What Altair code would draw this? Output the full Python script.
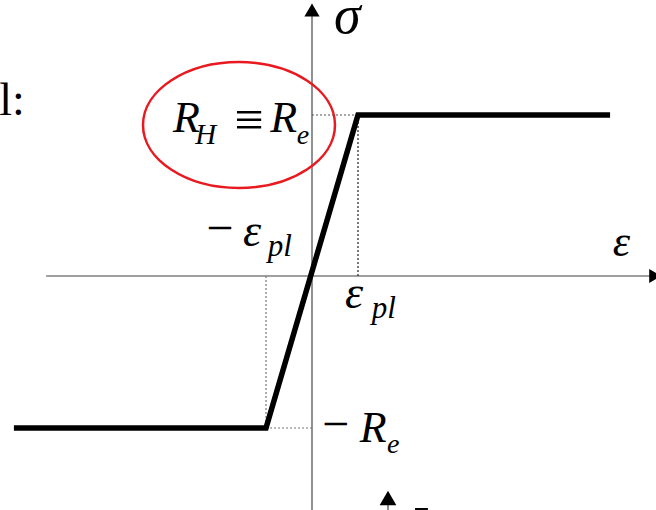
import altair as alt
import pandas as pd

# Elastic-perfectly-plastic law: strain in units of eps_pl, stress in units of R_e
curve_eps = [-6.48, -1.0, 1.0, 6.48]
curve_sig = [-0.944, -0.944, 1.0, 1.0]

# axis extents (same units)
x_axis_from, x_axis_to = -5.78, 7.39
y_axis_from, y_axis_to = 1.652, -1.453

# dotted construction lines: (x, y, x2, y2, colour)
guides = [
    (1.0, 0.0, 1.0, 1.0, "#222222"),
    (0.0, 1.0, 1.0, 1.0, "#555555"),
    (-1.0, 0.0, -1.0, -0.944, "#777777"),
    (-1.0, -0.944, 0.0, -0.944, "#777777"),
]

# labels: (x, baseline y, text, font size)
italic_labels = [
    (0.48, 1.509, "σ", 54),
    (6.54, 0.124, "ε", 44),
    (-1.50, 0.186, "ε", 46),
    (-0.96, 0.124, "pl", 31),
    (0.72, -0.199, "ε", 46),
    (1.30, -0.261, "pl", 31),
    (1.04, -1.031, "R", 44),
    (1.63, -1.099, "e", 28),
    (-3.02, 0.894, "R", 44),
    (-2.54, 0.820, "H", 29),
    (-0.91, 0.894, "R", 44),
    (-0.33, 0.820, "e", 28),
]
upright_labels = [
    (-2.30, 0.199, "−", 48),
    (0.22, -1.019, "−", 48),
    (-1.69, 0.862, "≡", 52),
    (-6.80, 1.0, "l:", 46),
]

xs = alt.Scale(domain=[-6.7826, 7.4783], nice=False, zero=False)
ys = alt.Scale(domain=[-1.4534, 1.7143], nice=False, zero=False)
FONT = "Liberation Serif"


def X(f="x"):
    return alt.X(f"{f}:Q", scale=xs, axis=None)


def Y(f="y"):
    return alt.Y(f"{f}:Q", scale=ys, axis=None)


solid_df = pd.DataFrame(
    {
        "x": [x_axis_from, 0.0, 1.652, 2.24],
        "y": [0.0, y_axis_from, -1.41, -1.447],
        "x2": [x_axis_to, 0.0, 1.652, 2.52],
        "y2": [0.0, y_axis_to, -1.453, -1.447],
        "c": ["#808080", "#555555", "#555555", "#000000"],
        "w": [1.3, 1.3, 1.3, 2.0],
    }
)
axes = alt.Chart(solid_df).mark_rule().encode(
    x=X(), y=Y(), x2="x2:Q", y2="y2:Q",
    color=alt.Color("c:N", scale=None),
    strokeWidth=alt.StrokeWidth("w:Q", scale=None),
)

guide_df = pd.DataFrame(guides, columns=["x", "y", "x2", "y2", "c"])
dotted = alt.Chart(guide_df).mark_rule(strokeDash=[2, 2], strokeWidth=1.2).encode(
    x=X(), y=Y(), x2="x2:Q", y2="y2:Q", color=alt.Color("c:N", scale=None)
)

curve_df = pd.DataFrame({"eps": curve_eps, "sig": curve_sig, "i": range(len(curve_eps))})
curve = alt.Chart(curve_df).mark_line(
    color="black", strokeWidth=5.5, strokeJoin="miter", strokeCap="butt"
).encode(x=X("eps"), y=Y("sig"), order="i:O")

heads_df = pd.DataFrame(
    {
        "x": [0.0, 7.46, 1.652],
        "y": [1.652, 0.0, -1.379],
        "s": ["triangle-up", "triangle-right", "triangle-up"],
        "z": [230, 190, 280],
    }
)
heads = alt.Chart(heads_df).mark_point(filled=True, color="black", opacity=1).encode(
    x=X(), y=Y(),
    shape=alt.Shape("s:N", scale=None),
    size=alt.Size("z:Q", scale=None),
)

ellipse_df = pd.DataFrame({"x": [-1.587], "y": [0.938]})
ellipse = alt.Chart(ellipse_df).mark_point(
    shape="M -1 0 A 1 0.656 0 1 1 1 0 A 1 0.656 0 1 1 -1 0 Z",
    filled=False, stroke="#e8191f", strokeWidth=2.5, size=36864, opacity=1,
).encode(x=X(), y=Y())

it_df = pd.DataFrame(italic_labels, columns=["x", "y", "t", "fs"])
italic_text = alt.Chart(it_df).mark_text(
    font=FONT, fontStyle="italic", align="left", baseline="alphabetic", color="black"
).encode(x=X(), y=Y(), text="t:N", size=alt.Size("fs:Q", scale=None))

up_df = pd.DataFrame(upright_labels, columns=["x", "y", "t", "fs"])
upright_text = alt.Chart(up_df).mark_text(
    font=FONT, align="left", baseline="alphabetic", color="black"
).encode(x=X(), y=Y(), text="t:N", size=alt.Size("fs:Q", scale=None))

chart = (
    alt.layer(axes, dotted, curve, heads, ellipse, italic_text, upright_text)
    .properties(
        width=656, height=510, padding=0, background="white",
        autosize=alt.AutoSizeParams(type="none"),
    )
    .configure_view(stroke=None)
)

chart.save("out.html", embed_options={"renderer": "svg", "actions": False})
